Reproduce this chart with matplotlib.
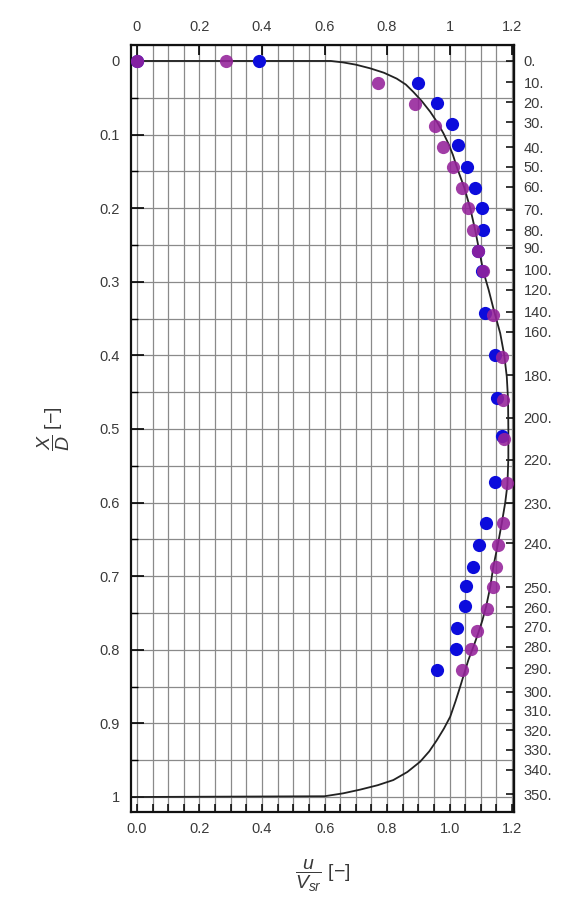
import matplotlib
matplotlib.use('Agg')
import matplotlib.pyplot as plt
import numpy as np

# fonts
plt.rcParams['font.family'] = ['Liberation Sans', 'DejaVu Sans']
plt.rcParams['mathtext.fontset'] = 'custom'
plt.rcParams['mathtext.it'] = 'Liberation Sans:italic'
plt.rcParams['mathtext.rm'] = 'Liberation Sans'
plt.rcParams['font.size'] = 10

# measured points (u/Vsr, X/D)
blue_x = [0.0, 0.391, 0.900, 0.961, 1.007, 1.028, 1.055, 1.082, 1.103, 1.108, 1.090, 1.104,
          1.114, 1.146, 1.151, 1.167, 1.146, 1.117, 1.095, 1.076, 1.053, 1.050, 1.025, 1.021, 0.959]
blue_y = [0.0, 0.0, 0.030, 0.057, 0.085, 0.114, 0.144, 0.172, 0.200, 0.230, 0.258, 0.286,
          0.343, 0.399, 0.458, 0.510, 0.572, 0.628, 0.658, 0.688, 0.713, 0.741, 0.771, 0.799, 0.828]

purple_x = [0.0, 0.285, 0.770, 0.890, 0.954, 0.980, 1.012, 1.039, 1.060, 1.076, 1.092, 1.106,
            1.140, 1.167, 1.172, 1.174, 1.185, 1.172, 1.156, 1.149, 1.138, 1.121, 1.087, 1.068, 1.039]
purple_y = [0.0, 0.0, 0.030, 0.059, 0.089, 0.117, 0.144, 0.172, 0.200, 0.230, 0.258, 0.286,
            0.345, 0.402, 0.460, 0.513, 0.574, 0.628, 0.658, 0.688, 0.715, 0.745, 0.774, 0.799, 0.828]

# profile line
curve_x = [0.0, 0.62, 0.66, 0.70, 0.746, 0.79, 0.831, 0.86, 0.884, 0.912, 0.938, 0.960, 0.980,
           0.997, 1.011, 1.023, 1.047, 1.066, 1.082, 1.095, 1.108, 1.125, 1.140, 1.162, 1.175,
           1.183, 1.187, 1.188, 1.188, 1.185, 1.178, 1.167, 1.153, 1.140, 1.130, 1.117, 1.105,
           1.092, 1.077, 1.060, 1.047, 1.034, 1.019, 1.002, 0.982, 0.959, 0.935, 0.906, 0.865,
           0.820, 0.770, 0.714, 0.66, 0.60, 0.0]
curve_y = [0.0, 0.0, 0.002, 0.005, 0.010, 0.016, 0.024, 0.032, 0.042, 0.055, 0.069, 0.083, 0.098,
           0.113, 0.128, 0.144, 0.172, 0.200, 0.230, 0.258, 0.286, 0.311, 0.336, 0.370, 0.400,
           0.429, 0.460, 0.500, 0.540, 0.576, 0.600, 0.628, 0.660, 0.687, 0.715, 0.741, 0.760,
           0.777, 0.795, 0.814, 0.832, 0.850, 0.870, 0.891, 0.907, 0.923, 0.938, 0.952, 0.966,
           0.977, 0.984, 0.990, 0.995, 0.999, 1.0]

# right axis labels (measuring positions) and where they sit in X/D
right_pos = [0.0, 0.029, 0.056, 0.083, 0.117, 0.144, 0.171, 0.202, 0.230, 0.254, 0.284, 0.311,
             0.341, 0.368, 0.427, 0.485, 0.542, 0.601, 0.655, 0.715, 0.742, 0.769, 0.796, 0.825,
             0.857, 0.882, 0.909, 0.936, 0.963, 0.996]
right_lab = ['0.', '10.', '20.', '30.', '40.', '50.', '60.', '70.', '80.', '90.', '100.', '120.',
             '140.', '160.', '180.', '200.', '220.', '230.', '240.', '250.', '260.', '270.', '280.',
             '290.', '300.', '310.', '320.', '330.', '340.', '350.']

bottom_ticks = [0.0, 0.2, 0.4, 0.6, 0.8, 1.0, 1.2]
bottom_lab = ['0.0', '0.2', '0.4', '0.6', '0.8', '1.0', '1.2']
top_lab = ['0', '0.2', '0.4', '0.6', '0.8', '1', '1.2']
left_ticks = [0, 0.1, 0.2, 0.3, 0.4, 0.5, 0.6, 0.7, 0.8, 0.9, 1.0]
left_lab = ['0', '0.1', '0.2', '0.3', '0.4', '0.5', '0.6', '0.7', '0.8', '0.9', '1']

txt = '#3a3a3a'

fig = plt.figure(figsize=(5.69, 9.22), dpi=100)
ax = fig.add_axes([0.2302, 0.1193, 0.6731, 0.8319])

# grid every 0.05
for gx in np.arange(0, 1.2001, 0.05):
    ax.axvline(gx, color='#8a8a8a', lw=0.9, zorder=0)
for gy in np.arange(0, 1.0001, 0.05):
    ax.axhline(gy, color='#8a8a8a', lw=0.9, zorder=0)

ax.plot(curve_x, curve_y, color='#222222', lw=1.3, zorder=2)
ax.plot(blue_x, blue_y, 'o', color='#0c0cdc', ms=9.5, mec='none', zorder=3)
ax.plot(purple_x, purple_y, 'o', color='#94229a', ms=9.5, mec='none', alpha=0.88, zorder=4)

ax.set_xlim(-0.019, 1.206)
ax.set_ylim(1.0204, -0.0217)

for s in ax.spines.values():
    s.set_linewidth(1.6)
    s.set_color('#111111')

# bottom axis
ax.set_xticks(bottom_ticks)
ax.set_xticklabels(bottom_lab)
ax.set_xticks(np.arange(0, 1.2001, 0.05), minor=True)
ax.tick_params(axis='x', which='both', direction='in', length=6, width=1.1, pad=7,
               labelcolor=txt, labelsize=10.5)

# left axis
ax.set_yticks(left_ticks)
ax.set_yticklabels(left_lab)
ax.set_yticks(np.arange(0, 1.0001, 0.05), minor=True)
ax.tick_params(axis='y', which='major', direction='in', length=9, width=1.2, pad=8,
               labelcolor=txt, labelsize=10.5)
ax.tick_params(axis='y', which='minor', direction='in', length=5, width=1.0)

# top axis
top = ax.secondary_xaxis('top')
top.set_xticks(bottom_ticks)
top.set_xticklabels(top_lab)
top.tick_params(direction='in', length=7, width=1.2, pad=8, labelcolor=txt, labelsize=10.5)

# right axis
right = ax.secondary_yaxis('right')
right.set_yticks(right_pos)
right.set_yticklabels(right_lab)
right.tick_params(direction='in', length=6, width=1.1, pad=7, labelcolor=txt, labelsize=10.5)

ax.set_xlabel(r'$\dfrac{u}{V_{sr}}$ [$-$]', color=txt, fontsize=14, labelpad=16)
ax.set_ylabel(r'$\dfrac{X}{D}$ [$-$]', color=txt, fontsize=14, labelpad=20)

fig.savefig('out.png', dpi=100)
